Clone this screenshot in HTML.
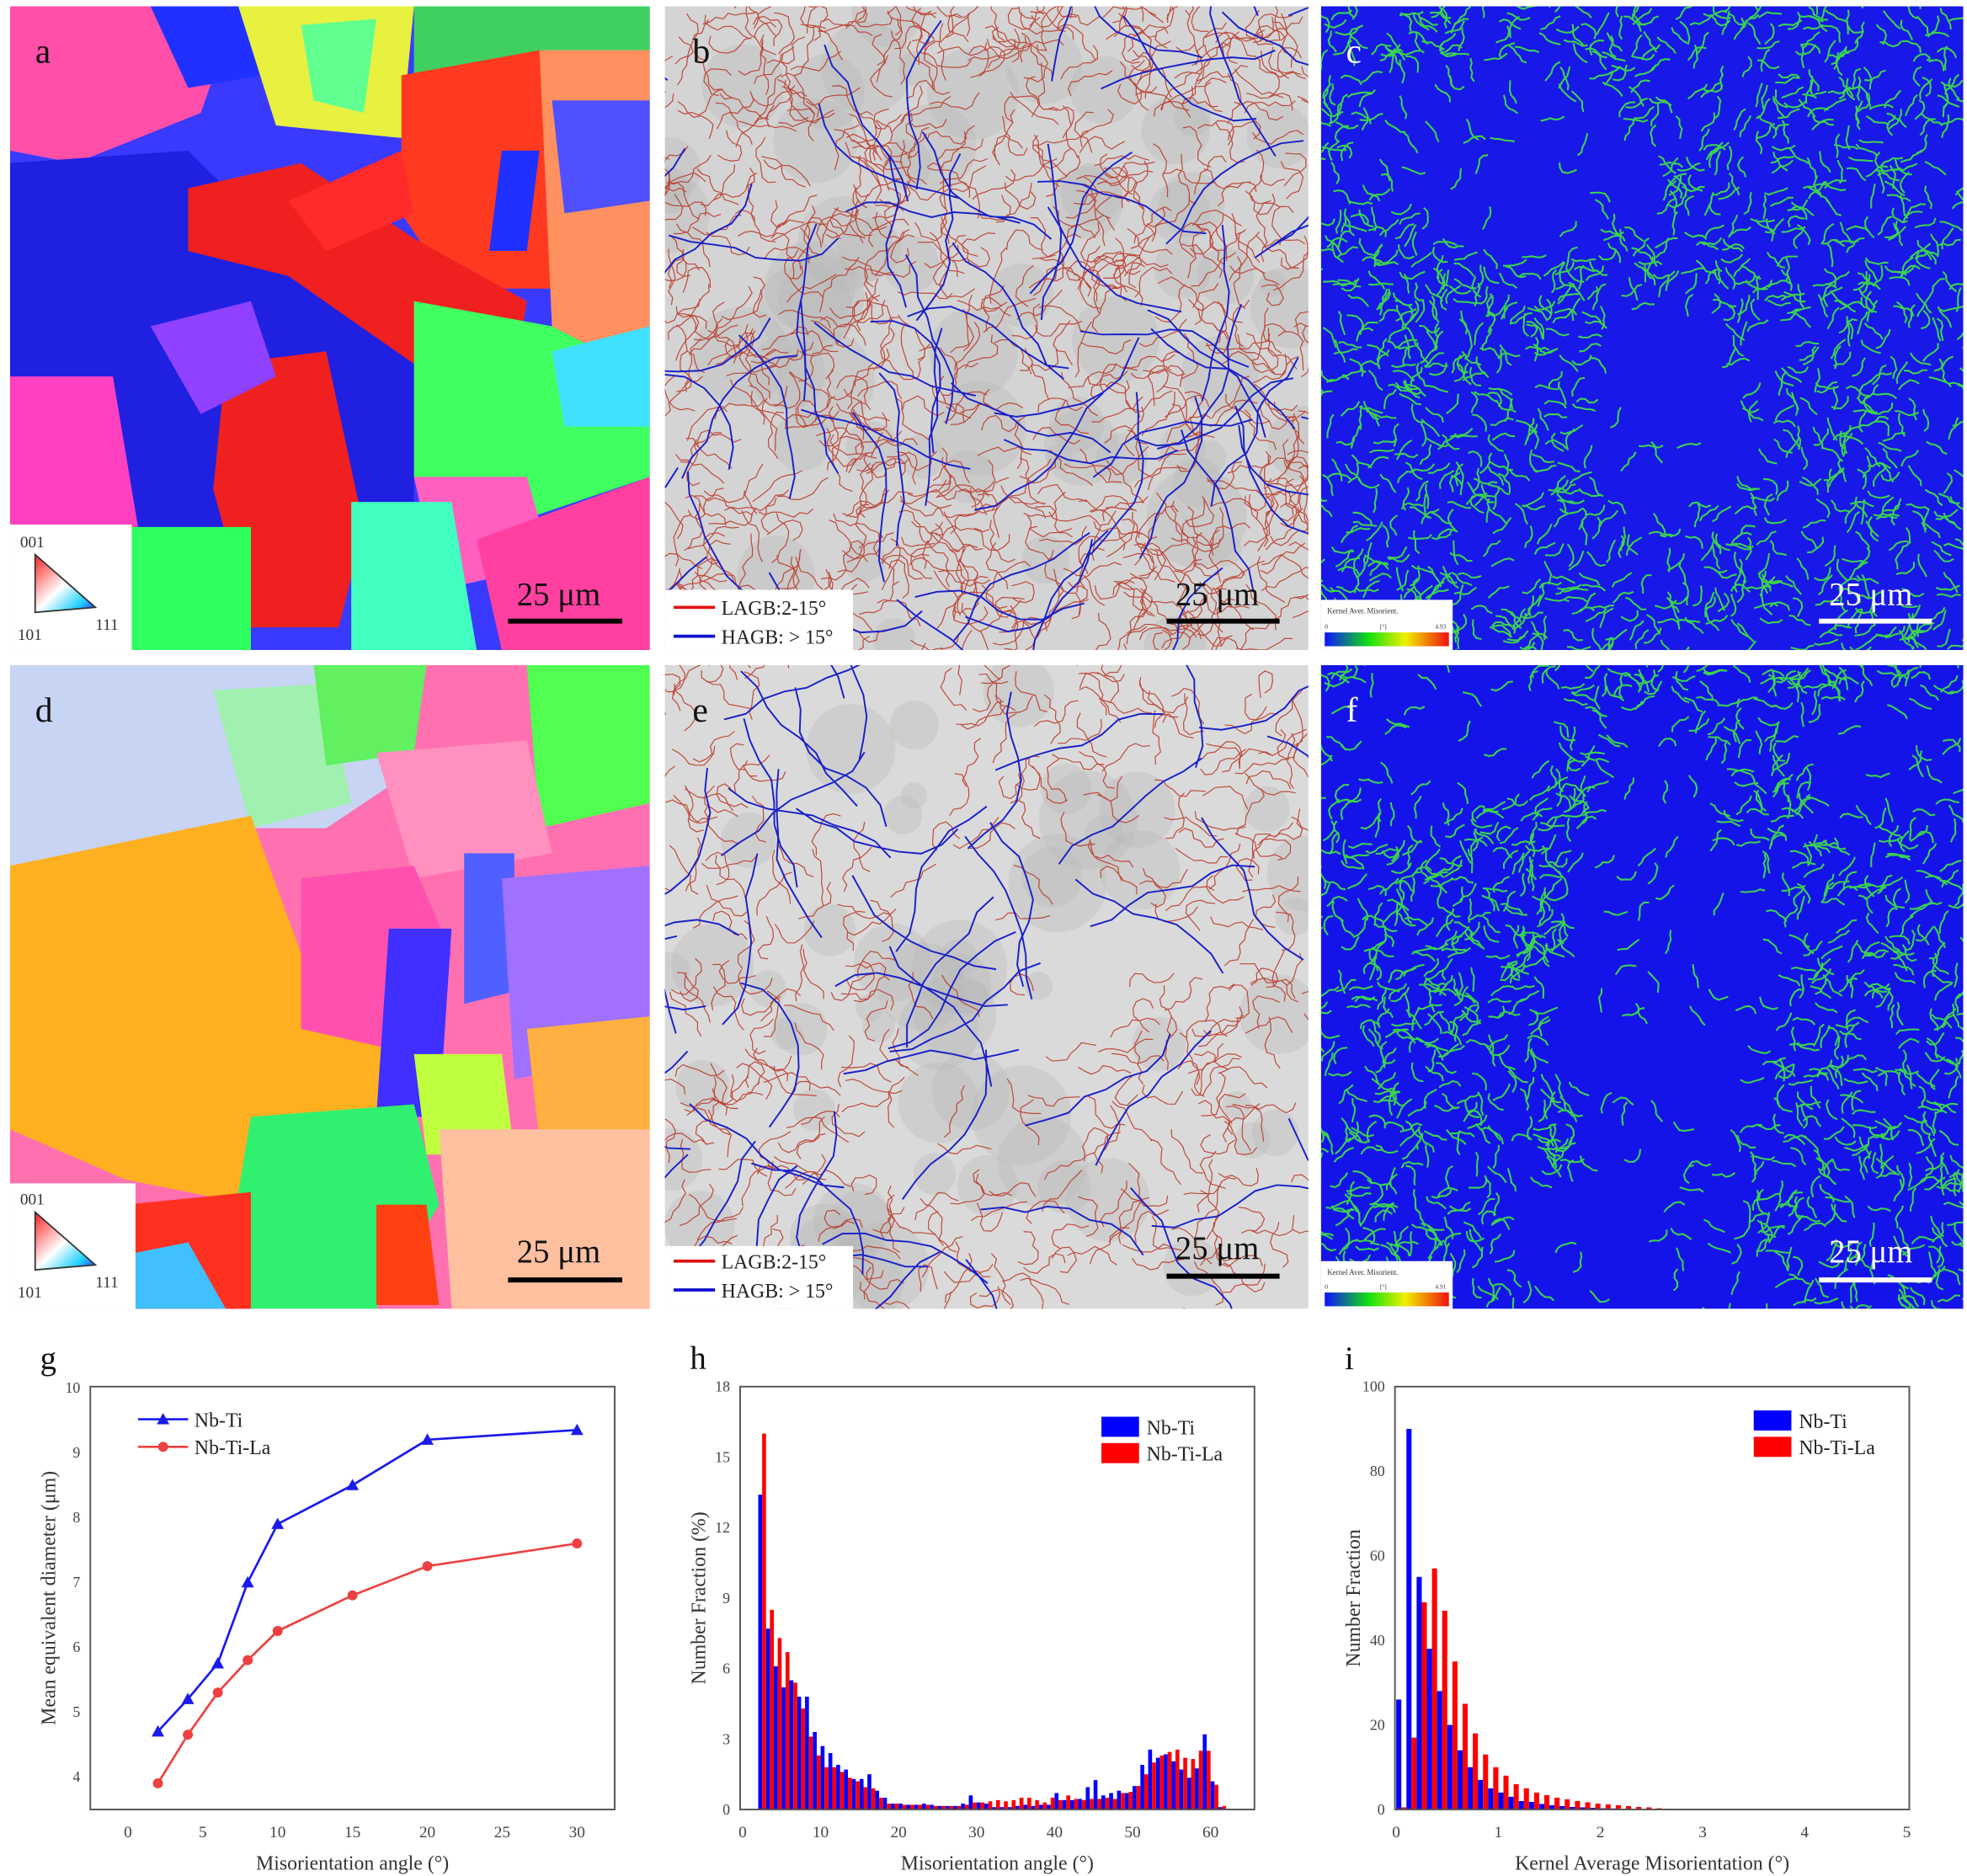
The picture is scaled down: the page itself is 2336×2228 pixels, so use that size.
<!DOCTYPE html>
<html><head><meta charset="utf-8">
<style>
html,body{margin:0;padding:0;background:#fff;width:2336px;height:2228px;overflow:hidden}
svg{display:block}
text{font-family:"Liberation Serif",serif}
</style></head>
<body>
<svg id="fig" xmlns="http://www.w3.org/2000/svg" width="2336" height="2228" viewBox="0 0 1568 1495" preserveAspectRatio="none">
<defs>
<clipPath id="clipA"><rect x="8" y="5" width="510" height="513"/></clipPath>
<clipPath id="clipB"><rect x="530" y="5" width="513" height="513"/></clipPath>
<clipPath id="clipC"><rect x="1053" y="5" width="512" height="513"/></clipPath>
<clipPath id="clipD"><rect x="8" y="530" width="510" height="513"/></clipPath>
<clipPath id="clipE"><rect x="530" y="530" width="513" height="513"/></clipPath>
<clipPath id="clipF"><rect x="1053" y="530" width="512" height="513"/></clipPath>
<linearGradient id="kamGrad" x1="0" x2="1"><stop offset="0" stop-color="#1010ff"/><stop offset="0.35" stop-color="#10e010"/><stop offset="0.65" stop-color="#f0f000"/><stop offset="1" stop-color="#f01010"/></linearGradient>
<linearGradient id="ipfGrad" x1="0" y1="0" x2="1" y2="1"><stop offset="0" stop-color="#ff2020"/><stop offset="0.5" stop-color="#ffffff"/><stop offset="0.8" stop-color="#20d0ff"/><stop offset="1" stop-color="#3030ff"/></linearGradient>
</defs>

<!-- Panel a -->
<g clip-path="url(#clipA)">
<rect x="8" y="5" width="510" height="513" fill="#3a3aff"/>
<polygon points="8,5 190,5 160,90 60,130 8,120" fill="#ff4fa8"/>
<polygon points="120,5 200,5 210,60 150,70" fill="#2030ff"/>
<polygon points="190,5 330,5 320,110 220,100" fill="#e8f040"/>
<polygon points="240,20 300,15 290,90 250,80" fill="#60ff90"/>
<polygon points="330,5 518,5 518,40 430,60 330,60" fill="#40d060"/>
<polygon points="320,60 430,40 440,230 360,230 320,170" fill="#ff3a20"/>
<polygon points="430,40 518,40 518,300 440,260" fill="#ff9060"/>
<polygon points="440,80 518,80 518,160 450,170" fill="#5050ff"/>
<polygon points="8,130 150,120 210,180 330,240 330,420 150,440 8,400" fill="#2020e0"/>
<polygon points="150,150 240,130 330,190 420,240 410,300 330,290 230,220 150,200" fill="#f02020"/>
<polygon points="230,160 320,120 330,170 260,200" fill="#ff2a2a"/>
<polygon points="180,290 260,280 290,420 270,500 200,500 170,390" fill="#f02020"/>
<polygon points="120,260 200,240 220,300 160,330" fill="#9040ff"/>
<polygon points="8,300 90,300 110,420 8,420" fill="#ff40c0"/>
<polygon points="330,240 440,260 518,300 518,380 400,420 330,380" fill="#40ff60"/>
<polygon points="330,380 420,380 440,450 350,470" fill="#ff60c0"/>
<polygon points="280,400 360,400 380,518 280,518" fill="#40ffc0"/>
<polygon points="380,430 518,380 518,518 400,518" fill="#ff40a0"/>
<polygon points="100,420 200,420 200,518 100,518" fill="#30ff60"/>
<polygon points="400,120 430,120 420,200 390,200" fill="#2030ff"/>
<polygon points="440,280 518,260 518,340 450,340" fill="#40e0ff"/>
</g>
<g>
<rect x="8" y="418" width="97" height="100" fill="#fff"/>
<text x="16" y="436" font-size="13" fill="#333">001</text>
<polygon points="28,442 28,488 76,484" fill="url(#ipfGrad)" stroke="#333" stroke-width="1.2"/>
<text x="14" y="510" font-size="13" fill="#333">101</text>
<text x="76" y="502" font-size="13" fill="#333">111</text>
</g>
<text x="28" y="50" font-size="28" fill="#111">a</text>
<g><line x1="405" y1="495" x2="496" y2="495" stroke="#000" stroke-width="4"/><text x="412" y="482" font-size="26" fill="#111">25 μm</text></g>

<!-- Panel d -->
<g clip-path="url(#clipD)">
<rect x="8" y="530" width="510" height="513" fill="#ff70b0"/>
<polygon points="8,530 330,530 320,620 260,660 150,660 60,700 8,690" fill="#c8d4f4"/>
<polygon points="170,550 260,545 280,640 200,660" fill="#a0f0b0"/>
<polygon points="250,530 340,530 330,600 260,610" fill="#60f060"/>
<polygon points="420,530 518,530 518,640 430,660" fill="#50ff50"/>
<polygon points="300,600 420,590 440,680 330,700" fill="#ff90c0"/>
<polygon points="8,690 200,650 240,760 330,830 330,940 200,960 100,940 8,900" fill="#ffb020"/>
<polygon points="240,700 330,690 360,760 330,840 240,820" fill="#ff50b0"/>
<polygon points="370,680 410,680 410,790 370,800" fill="#5060ff"/>
<polygon points="310,740 360,740 350,890 300,890" fill="#4030ff"/>
<polygon points="400,700 518,690 518,840 410,860" fill="#a070ff"/>
<polygon points="420,820 518,810 518,900 430,910" fill="#ffb040"/>
<polygon points="200,890 330,880 350,960 300,1043 200,1043 190,950" fill="#30f070"/>
<polygon points="330,840 400,840 410,920 340,920" fill="#c0ff40"/>
<polygon points="300,960 340,960 350,1040 300,1040" fill="#ff4010"/>
<polygon points="100,960 200,950 200,1043 100,1043" fill="#ff3020"/>
<polygon points="350,900 518,900 518,1043 360,1043" fill="#ffc0a0"/>
<polygon points="100,1000 150,990 180,1043 100,1043" fill="#40c0ff"/>
</g>
<g>
<rect x="8" y="943" width="100" height="100" fill="#fff"/>
<text x="16" y="960" font-size="13" fill="#333">001</text>
<polygon points="28,966 28,1012 76,1008" fill="url(#ipfGrad)" stroke="#333" stroke-width="1.2"/>
<text x="14" y="1034" font-size="13" fill="#333">101</text>
<text x="76" y="1026" font-size="13" fill="#333">111</text>
</g>
<text x="28" y="575" font-size="28" fill="#111">d</text>
<g><line x1="405" y1="1020" x2="496" y2="1020" stroke="#000" stroke-width="4"/><text x="412" y="1006" font-size="26" fill="#111">25 μm</text></g>

<!-- Panels b,e,c,f drawn by script -->
<g id="gB" clip-path="url(#clipB)"><rect x="530" y="5" width="513" height="513" fill="#d4d4d4"/></g>
<g id="gE" clip-path="url(#clipE)"><rect x="530" y="530" width="513" height="513" fill="#dadada"/></g>
<g id="gC" clip-path="url(#clipC)"><rect x="1053" y="5" width="512" height="513" fill="#1818e8"/></g>
<g id="gF" clip-path="url(#clipF)"><rect x="1053" y="530" width="512" height="513" fill="#1414ea"/></g>

<text x="552" y="50" font-size="28" fill="#111">b</text>
<text x="552" y="575" font-size="28" fill="#111">e</text>
<text x="1073" y="50" font-size="28" fill="#fff">c</text>
<text x="1073" y="575" font-size="28" fill="#fff">f</text>

<g>
<rect x="530" y="470" width="150" height="48" fill="#fff"/>
<line x1="537" y1="484" x2="570" y2="484" stroke="#e01010" stroke-width="2.5"/><text x="575" y="490" font-size="16" fill="#222">LAGB:2-15°</text>
<line x1="537" y1="507" x2="570" y2="507" stroke="#1010d0" stroke-width="2.5"/><text x="575" y="513" font-size="16" fill="#222">HAGB: &gt; 15°</text>
</g>
<g>
<rect x="530" y="993" width="150" height="50" fill="#fff"/>
<line x1="537" y1="1005" x2="570" y2="1005" stroke="#e01010" stroke-width="2.5"/><text x="575" y="1011" font-size="16" fill="#222">LAGB:2-15°</text>
<line x1="537" y1="1028" x2="570" y2="1028" stroke="#1010d0" stroke-width="2.5"/><text x="575" y="1034" font-size="16" fill="#222">HAGB: &gt; 15°</text>
</g>
<g><line x1="930" y1="495" x2="1020" y2="495" stroke="#000" stroke-width="4"/><text x="937" y="482" font-size="26" fill="#111">25 μm</text></g>
<g><line x1="930" y1="1017" x2="1020" y2="1017" stroke="#000" stroke-width="4"/><text x="937" y="1003" font-size="26" fill="#111">25 μm</text></g>
<g><line x1="1450" y1="495" x2="1540" y2="495" stroke="#fff" stroke-width="4"/><text x="1458" y="482" font-size="26" fill="#fff">25 μm</text></g>
<g><line x1="1450" y1="1020" x2="1540" y2="1020" stroke="#fff" stroke-width="4"/><text x="1458" y="1006" font-size="26" fill="#fff">25 μm</text></g>
<g>
<rect x="1053" y="478" width="105" height="40" fill="#fff"/><text x="1058" y="489" font-size="6" fill="#333">Kernel Aver. Misorient.</text>
<text x="1056" y="501" font-size="5" fill="#333">0</text><text x="1100" y="501" font-size="5" fill="#333">[°]</text><text x="1144" y="501" font-size="5" fill="#333">4.93</text>
<rect x="1056" y="504" width="99" height="11" fill="url(#kamGrad)"/>
</g>
<g>
<rect x="1053" y="1005" width="105" height="38" fill="#fff"/><text x="1058" y="1016" font-size="6" fill="#333">Kernel Aver. Misorient.</text>
<text x="1056" y="1027" font-size="5" fill="#333">0</text><text x="1100" y="1027" font-size="5" fill="#333">[°]</text><text x="1144" y="1027" font-size="5" fill="#333">4.91</text>
<rect x="1056" y="1030" width="99" height="11" fill="url(#kamGrad)"/>
</g>

<!-- Charts -->
<g id="chartG"></g>
<g id="chartH"></g>
<g id="chartI"></g>
</svg>
<script>
// ---- Chart g data ----
const gAngles = [2, 4, 6, 8, 10, 15, 20, 30];
const gNbTi = [4.7, 5.2, 5.75, 7.0, 7.9, 8.5, 9.2, 9.35];
const gNbTiLa = [3.9, 4.65, 5.3, 5.8, 6.25, 6.8, 7.25, 7.6];
const gXTicks = [0, 5, 10, 15, 20, 25, 30];
const gYTicks = [4, 5, 6, 7, 8, 9, 10];
// ---- Chart h data ----
const hBins = [2,3,4,5,6,7,8,9,10,11,12,13,14,15,16,17,18,19,20,21,22,23,24,25,26,27,28,29,30,31,32,33,34,35,36,37,38,39,40,41,42,43,44,45,46,47,48,49,50,51,52,53,54,55,56,57,58,59,60,61];
const hNbTi = [13.4,7.7,6.1,5.2,5.5,4.8,4.8,3.3,2.7,2.4,1.9,1.7,1.3,1.3,1.5,0.8,0.5,0.25,0.25,0.2,0.2,0.25,0.2,0.15,0.15,0.15,0.25,0.6,0.3,0.25,0.1,0.1,0.1,0.15,0.2,0.15,0.2,0.2,0.7,0.4,0.4,0.45,0.95,1.25,0.6,0.7,0.8,0.7,1.0,1.9,2.55,2.2,2.35,2.05,1.7,1.35,1.75,3.2,1.2,0.1];
const hNbTiLa = [16,8.5,7.3,6.7,5.4,4.3,3.1,2.3,1.8,1.8,1.6,1.35,1.2,0.95,0.9,0.5,0.25,0.25,0.2,0.2,0.2,0.2,0.15,0.15,0.15,0.15,0.2,0.3,0.3,0.35,0.4,0.35,0.4,0.5,0.5,0.4,0.3,0.5,0.4,0.6,0.45,0.4,0.45,0.45,0.5,0.45,0.7,0.75,1.0,1.5,2.0,2.3,2.45,2.55,2.2,2.15,2.5,2.5,1.05,0.15];
const hXTicks = [0, 10, 20, 30, 40, 50, 60];
const hYTicks = [0, 3, 6, 9, 12, 15, 18];
// ---- Chart i data ----
const iBins = [0,0.1,0.2,0.3,0.4,0.5,0.6,0.7,0.8,0.9,1.0,1.1,1.2,1.3,1.4,1.5,1.6,1.7,1.8,1.9,2.0,2.1,2.2,2.3,2.4,2.5,2.6,2.7,2.8];
const iNbTi = [26,90,55,38,28,20,14,10,7,5,4,3,2,1.8,1.3,1,0.8,0.6,0.5,0.4,0.3,0.25,0.2,0.15,0.1,0.1,0.05,0.05,0.05];
const iNbTiLa = [0.5,17,49,57,47,35,25,18,13,10,8,6,5,4,3.4,2.8,2.4,2,1.7,1.4,1.2,1,0.8,0.6,0.5,0.3,0.2,0.15,0.1];
const iXTicks = [0, 1, 2, 3, 4, 5];
const iYTicks = [0, 20, 40, 60, 80, 100];

const NS = "http://www.w3.org/2000/svg";
function mk(parent, tag, attrs) {
  const e = document.createElementNS(NS, tag);
  for (const k in attrs) e.setAttribute(k, attrs[k]);
  parent.appendChild(e);
  return e;
}
function txt(parent, x, y, s, size, anchor, fill) {
  const t = mk(parent, 'text', {x: x, y: y, 'font-size': size, 'text-anchor': anchor || 'start', fill: fill || '#333'});
  t.textContent = s;
  return t;
}
function linScale(d0, d1, r0, r1) { return v => r0 + (v - d0) * (r1 - r0) / (d1 - d0); }

function frame(g, x0, y0, x1, y1, xs, ys, xt, yt, xTitle, yTitle, letter) {
  const fr = mk(g, 'rect', {x: x0, y: y0, width: x1 - x0, height: y1 - y0, fill: 'none', stroke: '#555', 'stroke-width': 1.3});
  
  
  xt.forEach(v => {
    const t = txt(g, xs(v), y1 + 22, String(v), 13, 'middle', '#444');
    
    
  });
  yt.forEach(v => {
    const t = txt(g, x0 - 8, ys(v) + 4, String(v), 12, 'end', '#444');
    
    
  });
  const xtEl = txt(g, (x0 + x1) / 2, y1 + 48, xTitle, 16, 'middle', '#333');
  
  
  const ytEl = txt(g, 0, 0, yTitle, 16, 'middle', '#333');
  ytEl.setAttribute('transform', 'translate(' + (x0 - 28) + ',' + ((y0 + y1) / 2) + ') rotate(-90)');
  
  
  const L = txt(g, x0 - 40, y0 - 14, letter, 26, 'start', '#111');
  
  
}

// Chart g
(function () {
  const g = document.getElementById('chartG');
  const x0 = 72, x1 = 490, y0 = 1105, y1 = 1442;
  const xs = linScale(0, 30, 102, 460), ys = linScale(4, 10, 1416, 1106);
  frame(g, x0, y0, x1, y1, xs, ys, gXTicks, gYTicks, 'Misorientation angle (°)', 'Mean equivalent diameter (μm)', 'g');
  function series(vals, color, marker, name) {
    const pts = gAngles.map((a, i) => xs(a) + ',' + ys(vals[i])).join(' ');
    const pl = mk(g, 'polyline', {points: pts, fill: 'none', stroke: color, 'stroke-width': 1.8});
    
    
    gAngles.forEach((a, i) => {
      const cx = xs(a), cy = ys(vals[i]);
      let m;
      if (marker === 'tri') m = mk(g, 'polygon', {points: (cx) + ',' + (cy - 5) + ' ' + (cx - 5) + ',' + (cy + 4) + ' ' + (cx + 5) + ',' + (cy + 4), fill: color});
      else m = mk(g, 'circle', {cx: cx, cy: cy, r: 4, fill: color});
      
      
    });
  }
  series(gNbTi, '#1a1aee', 'tri', 'nb-ti');
  series(gNbTiLa, '#ee4040', 'circ', 'nb-ti-la');
  const lg = mk(g, 'g', {});
  
  
  mk(lg, 'line', {x1: 110, y1: 1131, x2: 150, y2: 1131, stroke: '#1a1aee', 'stroke-width': 1.8});
  mk(lg, 'polygon', {points: '130,1126 125,1135 135,1135', fill: '#1a1aee'});
  txt(lg, 155, 1137, 'Nb-Ti', 16, 'start', '#222');
  mk(lg, 'line', {x1: 110, y1: 1153, x2: 150, y2: 1153, stroke: '#ee4040', 'stroke-width': 1.8});
  mk(lg, 'circle', {cx: 130, cy: 1153, r: 4, fill: '#ee4040'});
  txt(lg, 155, 1159, 'Nb-Ti-La', 16, 'start', '#222');
})();

function barLegend(g, x, y, names) {
  const lg = mk(g, 'g', {});
  
  
  mk(lg, 'rect', {x: x, y: y, width: 30, height: 16, fill: '#0000ff'});
  txt(lg, x + 36, y + 14, names[0], 16, 'start', '#222');
  mk(lg, 'rect', {x: x, y: y + 21, width: 30, height: 16, fill: '#ff0000'});
  txt(lg, x + 36, y + 35, names[1], 16, 'start', '#222');
}

// Chart h
(function () {
  const g = document.getElementById('chartH');
  const x0 = 590, x1 = 1000, y0 = 1105, y1 = 1442;
  const xs = linScale(0, 60, 592, 965), ys = linScale(0, 18, 1442, 1105);
  const bw = (xs(1) - xs(0)) / 2;
  hBins.forEach((b, i) => {
    const r1 = mk(g, 'rect', {x: xs(b), y: ys(hNbTi[i]), width: bw, height: ys(0) - ys(hNbTi[i]), fill: '#0000ff'});
    
    
    const r2 = mk(g, 'rect', {x: xs(b) + bw, y: ys(hNbTiLa[i]), width: bw, height: ys(0) - ys(hNbTiLa[i]), fill: '#ff0000'});
    
    
  });
  frame(g, x0, y0, x1, y1, xs, ys, hXTicks, hYTicks, 'Misorientation angle (°)', 'Number Fraction (%)', 'h');
  barLegend(g, 878, 1129, ['Nb-Ti', 'Nb-Ti-La']);
})();

// Chart i
(function () {
  const g = document.getElementById('chartI');
  const x0 = 1112, x1 = 1522, y0 = 1105, y1 = 1442;
  const xs = linScale(0, 5, 1113, 1520), ys = linScale(0, 100, 1442, 1105);
  const bw = (xs(0.1) - xs(0)) / 2;
  iBins.forEach((b, i) => {
    const r1 = mk(g, 'rect', {x: xs(b), y: ys(iNbTi[i]), width: bw, height: ys(0) - ys(iNbTi[i]), fill: '#0000ff'});
    
    
    const r2 = mk(g, 'rect', {x: xs(b) + bw, y: ys(iNbTiLa[i]), width: bw, height: ys(0) - ys(iNbTiLa[i]), fill: '#ff0000'});
    
    
  });
  frame(g, x0, y0, x1, y1, xs, ys, iXTicks, iYTicks, 'Kernel Average Misorientation (°)', 'Number Fraction', 'i');
  barLegend(g, 1398, 1124, ['Nb-Ti', 'Nb-Ti-La']);
})();

// ---- Micrograph textures (decorative) ----
let seed = 12345;
function rnd() { seed = (seed * 1103515245 + 12345) & 0x7fffffff; return seed / 0x7fffffff; }
function squiggle(x, y, len, steps, spread) {
  let d = 'M' + x.toFixed(1) + ' ' + y.toFixed(1);
  let a = rnd() * Math.PI * 2;
  for (let k = 0; k < steps; k++) {
    a += (rnd() - 0.5) * spread;
    x += Math.cos(a) * len; y += Math.sin(a) * len;
    d += ' L' + x.toFixed(1) + ' ' + y.toFixed(1);
  }
  return d;
}
function gbPanel(id, X, Y, redN, blueN, emptyFn) {
  const g = document.getElementById(id);
  for (let k = 0; k < 60; k++) {
    mk(g, 'circle', {cx: X + rnd() * 513, cy: Y + rnd() * 513, r: 10 + rnd() * 30, fill: '#b8b8b8', opacity: 0.35});
  }
  let d = '';
  for (let k = 0; k < redN; k++) {
    const x = X + rnd() * 513, y = Y + rnd() * 513;
    if (emptyFn && emptyFn(x, y)) continue;
    d += squiggle(x, y, 6, 8, 2.2) + ' ';
  }
  const rp = mk(g, 'path', {d: d, fill: 'none', stroke: '#b83020', 'stroke-width': 0.8, opacity: 0.85});
  
  
  let bd = '';
  for (let k = 0; k < blueN; k++) {
    bd += squiggle(X + rnd() * 513, Y + rnd() * 513, 18, 8, 1.0) + ' ';
  }
  const bp = mk(g, 'path', {d: bd, fill: 'none', stroke: '#1a20c8', 'stroke-width': 1.3});
  
  
}
gbPanel('gB', 530, 5, 800, 70, null);
gbPanel('gE', 530, 530, 450, 55, (x, y) => (x > 600 && x < 760 && y < 660) || (x > 720 && x < 900 && y > 640 && y < 950 && ((x * 7 + y * 3) % 10) < 6));

function kamPanel(id, X, Y, n, sparse) {
  const g = document.getElementById(id);
  let d = '';
  for (let k = 0; k < n; k++) {
    const x = X + rnd() * 512, y = Y + rnd() * 513;
    if (sparse && sparse(x, y) && rnd() < 0.85) continue;
    d += squiggle(x, y, 4, 5, 1.6) + ' ';
  }
  const p = mk(g, 'path', {d: d, fill: 'none', stroke: '#3ee83e', 'stroke-width': 1.4, opacity: 0.9});
  
  
}
kamPanel('gC', 1053, 5, 6000, (x, y) => ((x - 1220) ** 2 / 9000 + (y - 130) ** 2 / 6000 < 1) || ((x - 1330) ** 2 / 5000 + (y - 330) ** 2 / 8000 < 1));
kamPanel('gF', 1053, 530, 5000, (x, y) => ((x - 1160) ** 2 / 12000 + (y - 580) ** 2 / 3000 < 1) || ((x - 1330) ** 2 / 7000 + (y - 780) ** 2 / 50000 < 1) || ((x - 1290) ** 2 / 8000 + (y - 1000) ** 2 / 4000 < 1) || ((x - 1500) ** 2 / 4000 + (y - 600) ** 2 / 3000 < 1));
</script>
</body></html>
